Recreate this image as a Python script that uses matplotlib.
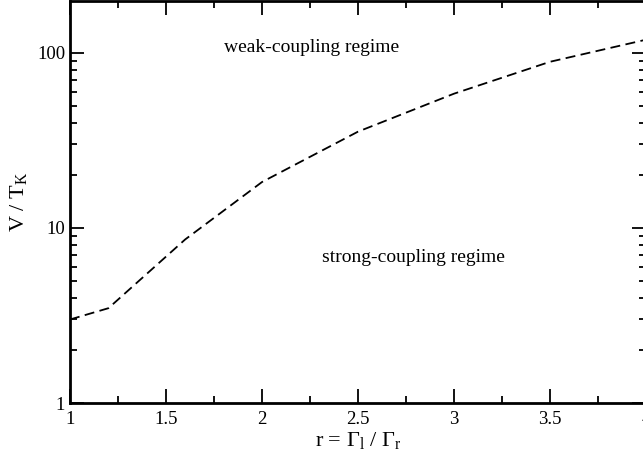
import matplotlib
matplotlib.use("Agg")
import matplotlib.pyplot as plt
from matplotlib.ticker import MultipleLocator, NullFormatter, LogLocator

plt.rcParams['font.family'] = ['Liberation Serif', 'DejaVu Serif']
plt.rcParams['mathtext.fontset'] = 'custom'
plt.rcParams['mathtext.rm'] = 'Liberation Serif'
plt.rcParams['mathtext.it'] = 'Liberation Serif:italic'

# ratio r = Gamma_l / Gamma_r and crossover bias V / T_K
r_vals = [1.0, 1.2, 1.6, 2.0, 2.5, 3.0, 3.5, 4.0]
v_over_tk = [3.0, 3.48, 8.6, 18.3, 35.5, 58.5, 89.0, 119.0]

yticks = [1, 10, 100]
ytick_labels = ["1", "10", "100"]
xticks = [1, 1.5, 2, 2.5, 3, 3.5, 4]
xtick_labels = ["1", "1.5", "2", "2.5", "3", "3.5", "4"]

fig = plt.figure(figsize=(6.43, 4.59), dpi=100)
ax = fig.add_axes([70/643, 56/459, 576/643, 402/459])

ax.plot(r_vals, v_over_tk, color='black', linestyle=(0, (5.5, 3)), linewidth=1.3)

ax.set_yscale('log')
ax.set_xlim(1, 4)
ax.set_ylim(1, 198)

ax.set_xticks(xticks)
ax.set_xticklabels(xtick_labels)
ax.xaxis.set_minor_locator(MultipleLocator(0.25))
ax.set_yticks(yticks)
ax.set_yticklabels(ytick_labels)
ax.yaxis.set_minor_locator(LogLocator(base=10, subs=range(2, 10)))
ax.yaxis.set_minor_formatter(NullFormatter())

ax.tick_params(which='both', direction='in', top=True, right=True, labelsize=13.5, width=1.3)
ax.tick_params(which='major', length=10)
ax.tick_params(which='minor', length=5)
ax.tick_params(axis='x', pad=6)
for s in ax.spines.values():
    s.set_linewidth(2)

ax.set_xlabel(r'r = $\Gamma_{\rm l}$ / $\Gamma_{\rm r}$', fontsize=16, labelpad=1)
ax.set_ylabel(r'V / T$_{\rm K}$', fontsize=16, labelpad=6)

ax.text(2.26, 107, 'weak-coupling regime', fontsize=14, ha='center', va='center')
ax.text(2.79, 6.8, 'strong-coupling regime', fontsize=14, ha='center', va='center')

plt.savefig('out.png', dpi=100)
